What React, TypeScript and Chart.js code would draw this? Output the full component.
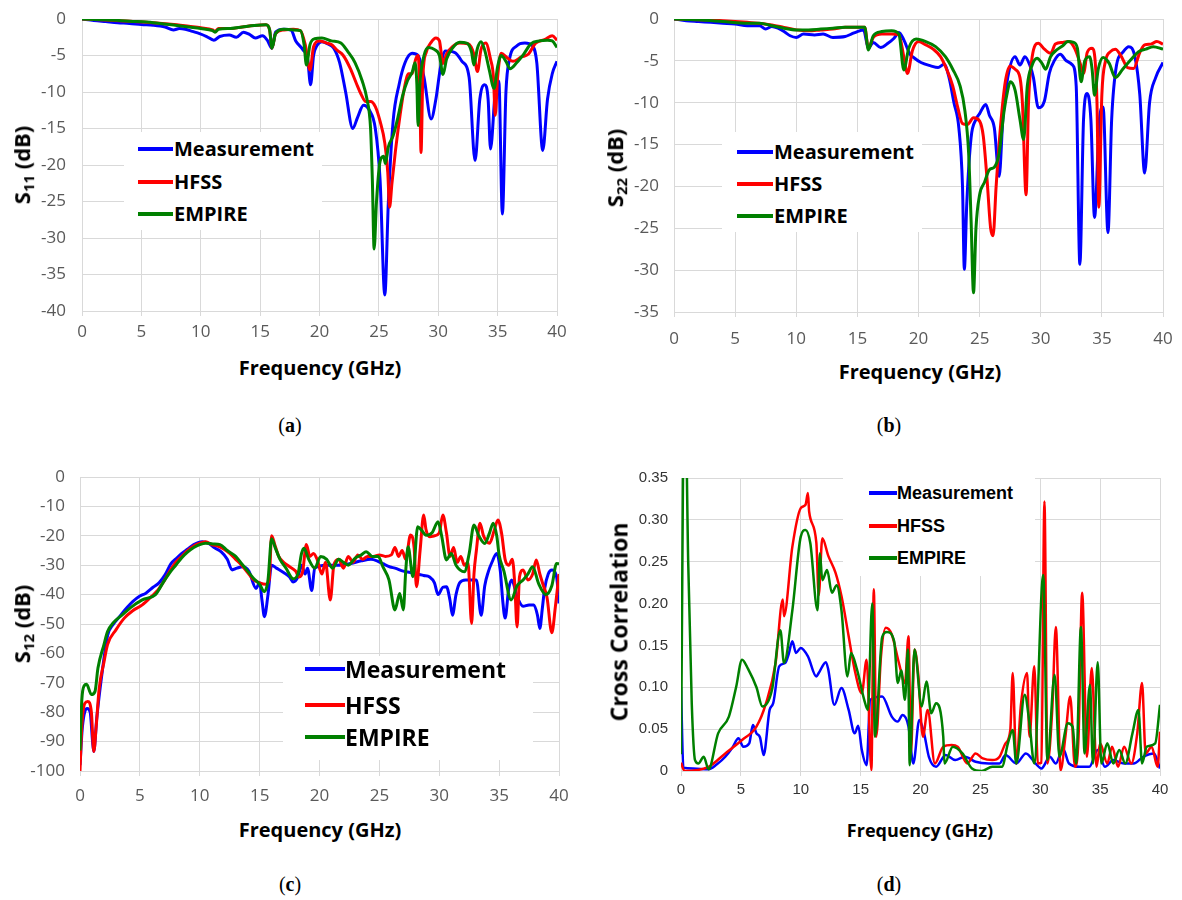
import React, { useEffect, useRef } from 'react';
import { Chart, registerables } from 'chart.js';

Chart.register(...registerables);

type Pt = [number, number];

// ---------- DATA (frequency GHz, value) ----------
const seriesNames = ['Measurement', 'HFSS', 'EMPIRE'];
const seriesColors = ['#0000ff', '#ff0000', '#008000'];

const s11Measurement: Pt[] = [
  [0, 0], [1, -0.2], [2, -0.35], [3, -0.5], [4, -0.6], [5, -0.75], [6, -0.85], [7, -1.1], [7.7, -1.5], [8.2, -1.3],
  [8.7, -1.4], [9.3, -1.7], [9.9, -2.0], [10.5, -2.4], [11.1, -2.9], [11.6, -2.4], [12.4, -2.2], [13, -2.5], [13.6, -1.8],
  [14.1, -2.1], [14.6, -2.6], [15.2, -2.3], [15.6, -2.9], [16, -4.0], [16.3, -1.8], [17, -1.4], [17.6, -1.5], [18, -3.0],
  [18.6, -4.2], [19, -5.5], [19.25, -9.0], [19.5, -5], [19.8, -3.6], [20.2, -3.1], [20.7, -3.4], [21.2, -4], [21.7, -6],
  [22.2, -10], [22.8, -15], [23.2, -13.5], [23.7, -11.8], [24.2, -12.5], [24.7, -15], [25.1, -22], [25.5, -37.8],
  [25.8, -25], [26.2, -14], [26.7, -9], [27.2, -6], [27.8, -4.7], [28.3, -5], [28.8, -8], [29.4, -13.7], [29.8, -11],
  [30.2, -6.5], [30.6, -4.4], [31.4, -4.6], [32, -5.8], [32.6, -8], [33.1, -19.4], [33.5, -11], [33.9, -9], [34.2, -11],
  [34.4, -17.8], [34.8, -10], [35.1, -8.5], [35.4, -26.7], [35.7, -10], [36, -5.5], [36.6, -3.7], [37.3, -3.3],
  [37.9, -3.6], [38.3, -6], [38.8, -18], [39.2, -11], [39.6, -7.5], [40, -5.8],
];
const s11Hfss: Pt[] = [
  [0, 0], [2, -0.15], [4, -0.3], [6, -0.5], [8, -0.8], [9, -1.0], [10, -1.2], [11, -1.5], [11.2, -1.7], [11.5, -1.3],
  [12.5, -1.3], [13.5, -1.1], [14.5, -0.9], [15.5, -0.8], [15.8, -1.5], [16, -4.0], [16.3, -2], [17, -1.5], [17.8, -1.4],
  [18.4, -1.6], [18.8, -3.5], [19.2, -7], [19.5, -3.8], [20, -3.0], [20.6, -3.3], [21, -3.5], [21.5, -4.3], [22, -5],
  [22.6, -6.8], [23.1, -8.8], [23.5, -10.3], [23.9, -11.3], [24.3, -11.3], [24.7, -12], [25.1, -14], [25.5, -17],
  [25.75, -21], [25.9, -25.8], [26.1, -22.5], [26.4, -18], [26.8, -13], [27.2, -9], [27.5, -7.5], [27.8, -7.5],
  [28.1, -5.5], [28.3, -5], [28.45, -10], [28.55, -18.3], [28.7, -8], [29, -4.5], [29.4, -3.2], [29.8, -2.6],
  [30.1, -3.0], [30.4, -6.1], [30.7, -4.8], [31.2, -3.8], [31.8, -3.3], [32.5, -3.4], [33, -4.8], [33.3, -7.2],
  [33.6, -4.2], [34, -3.3], [34.4, -5.5], [34.65, -8], [34.8, -13.2], [35, -8], [35.3, -4.7], [35.8, -5.3], [36.3, -5.8],
  [37, -5.2], [37.6, -4.8], [38.2, -3.3], [39, -2.8], [39.6, -2.3], [40, -2.9],
];
const s11Empire: Pt[] = [
  [0, 0], [2, -0.1], [4, -0.3], [6, -0.5], [8, -0.9], [9, -1.1], [10, -1.3], [11, -1.6], [11.2, -1.8], [11.5, -1.4],
  [12.5, -1.3], [13.5, -1.1], [14.5, -0.9], [15.5, -0.8], [15.8, -1.5], [16, -4.0], [16.3, -2], [17, -1.4], [17.8, -1.5],
  [18.4, -1.6], [18.7, -3.5], [18.9, -6.3], [19.2, -3.5], [19.6, -2.7], [20.2, -2.6], [21, -3.0], [21.8, -3.3],
  [22.4, -4.5], [23, -6], [23.6, -8.5], [24, -11], [24.3, -15], [24.45, -22], [24.6, -31.5], [24.8, -25], [25.1, -19.5],
  [25.4, -18.8], [25.55, -19.8], [25.8, -17.5], [26.2, -16], [26.6, -13.5], [27, -10.5], [27.4, -8.5], [27.8, -7.3],
  [28.05, -6], [28.2, -9], [28.3, -14.6], [28.45, -9], [28.8, -5], [29.2, -3.9], [29.7, -4.2], [30.1, -5], [30.4, -7.6],
  [30.7, -5.5], [31.2, -4], [31.8, -3.2], [32.4, -3.3], [32.8, -4.5], [33, -6.3], [33.3, -4], [33.6, -3.1], [33.9, -4.2],
  [34.3, -7], [34.7, -9.5], [35, -6.5], [35.3, -5], [35.7, -5.8], [36.05, -6.8], [36.6, -6], [37.2, -4.8], [37.8, -3.4],
  [38.5, -3.0], [39.2, -2.9], [39.6, -3.0], [40, -3.9],
];

const s22Measurement: Pt[] = [
  [0, 0], [1, -0.2], [2, -0.3], [3, -0.4], [4, -0.5], [5, -0.6], [6, -0.8], [7, -0.8], [7.5, -1.2], [8, -0.9], [8.5, -1.1],
  [9, -1.5], [9.5, -2.0], [10, -2.2], [10.6, -1.8], [11.5, -1.9], [12.2, -1.8], [13, -2.2], [14, -2.1], [14.5, -1.8],
  [15, -1.5], [15.5, -1.3], [15.9, -3.5], [16.3, -2.8], [16.9, -3.4], [17.5, -2.9], [18, -2.3], [18.4, -1.6], [18.8, -2.5],
  [19.3, -4.2], [19.6, -4.6], [20.2, -5.2], [21, -5.6], [21.6, -5.8], [22.1, -5.4], [22.5, -7], [22.9, -10], [23.3, -13],
  [23.6, -20], [23.75, -29.9], [23.95, -22], [24.3, -14.2], [24.7, -12], [25, -11.3], [25.5, -10.2], [25.8, -11.5],
  [26.2, -13], [26.6, -18.8], [26.9, -12], [27.3, -7], [27.9, -4.5], [28.3, -5.5], [28.7, -4.5], [29.1, -5.5], [29.4, -7],
  [29.8, -10.6], [30.3, -9.8], [30.7, -6.5], [31.1, -5], [31.6, -4.2], [32.1, -5], [32.6, -5.5], [32.9, -8], [33.2, -29.3],
  [33.5, -12], [33.8, -8.9], [34.1, -12], [34.4, -23.7], [34.8, -12], [35.1, -10.5], [35.5, -25.5], [35.8, -12],
  [36.2, -5.5], [36.7, -4], [37.2, -3.3], [37.7, -4.5], [38.1, -9], [38.5, -18.4], [38.9, -10], [39.4, -7], [40, -5.2],
];
const s22Hfss: Pt[] = [
  [0, 0], [2, -0.1], [4, -0.2], [6, -0.4], [8, -0.7], [9, -1.0], [10, -1.3], [11, -1.4], [12, -1.3], [13, -1.2], [14, -1.0],
  [15, -1.0], [15.6, -1.0], [15.9, -3.5], [16.3, -2.2], [17, -1.8], [17.8, -1.8], [18.4, -1.9], [18.8, -4.5], [19.1, -6.5],
  [19.5, -3.8], [20, -2.7], [20.6, -3.1], [21.2, -3.6], [21.8, -4.5], [22.3, -6], [22.8, -8], [23.2, -10.5], [23.6, -12.5],
  [24, -12.6], [24.5, -11.8], [25, -12.2], [25.3, -14], [25.6, -19], [25.9, -25], [26.1, -25.9], [26.35, -20],
  [26.7, -13], [27.1, -7.5], [27.5, -5.6], [27.9, -6], [28.3, -7], [28.5, -10], [28.8, -21], [29, -10], [29.3, -4.5],
  [29.8, -2.9], [30.3, -3.6], [30.8, -4.1], [31.2, -3.0], [31.8, -2.8], [32.3, -2.7], [32.8, -3.6], [33.2, -5.2],
  [33.5, -6.5], [33.8, -4], [34.2, -3.5], [34.45, -5], [34.6, -10], [34.75, -22.5], [35, -9], [35.3, -5], [35.7, -3.9],
  [36.1, -3.6], [36.6, -4.5], [37.1, -5.8], [37.6, -5.9], [38.1, -4], [38.5, -3.1], [39, -3.0], [39.5, -2.7], [40, -3.0],
];
const s22Empire: Pt[] = [
  [0, 0], [2, -0.1], [4, -0.3], [6, -0.5], [7, -0.5], [8, -0.8], [9, -1.1], [10, -1.3], [11, -1.3], [12, -1.2], [13, -1.1],
  [14, -1.0], [15, -1.0], [15.6, -1.0], [15.9, -3.7], [16.3, -2], [17, -1.5], [17.8, -1.4], [18.4, -1.8], [18.8, -6.1],
  [19.2, -3.5], [19.8, -2.4], [20.6, -2.7], [21.4, -3.3], [22.2, -4.5], [22.8, -6], [23.4, -8], [23.8, -11], [24.1, -16],
  [24.3, -24], [24.5, -32.7], [24.7, -25], [25, -21], [25.4, -19.5], [25.8, -18], [26.2, -17.7], [26.6, -16], [27, -11],
  [27.3, -8.5], [27.5, -7.5], [27.9, -8.5], [28.3, -12], [28.6, -14.4], [28.9, -8], [29.3, -5.5], [29.7, -4.7],
  [30.1, -5.3], [30.4, -6], [30.8, -4.5], [31.3, -3.7], [31.8, -3.2], [32.2, -2.7], [32.7, -2.8], [33, -3.5], [33.3, -7.5],
  [33.6, -5], [34, -4.5], [34.2, -6], [34.4, -9.1], [34.7, -6], [35.1, -4.6], [35.6, -5.3], [36.1, -7], [36.7, -6],
  [37.4, -4.8], [38, -3.9], [38.6, -3.6], [39.2, -3.3], [40, -3.6],
];

const s12Measurement: Pt[] = [
  [0, -98], [0.2, -85], [0.6, -78.7], [0.85, -80], [1.05, -90], [1.15, -93.4], [1.4, -82], [1.8, -68], [2.3, -54],
  [2.8, -50], [3.3, -47.5], [3.8, -45], [4.4, -42.4], [5, -40.5], [5.5, -39.5], [6.1, -37.5], [6.6, -36], [7.1, -33.3],
  [7.6, -29.5], [8.1, -27.5], [8.5, -26], [9, -24.5], [9.5, -23], [10.2, -22], [10.7, -22.5], [11.2, -24], [11.8, -25.5],
  [12.3, -28], [12.7, -31.6], [13.1, -31], [13.6, -30.5], [14.1, -32], [14.7, -37.9], [15.0, -36], [15.2, -42],
  [15.4, -47.5], [15.7, -40], [16.0, -30], [16.4, -31], [17, -32.5], [17.5, -34], [17.8, -35.7], [18.2, -34], [18.5, -30],
  [18.8, -33], [19.0, -31], [19.35, -38.6], [19.6, -31], [20.6, -30], [21.5, -30], [22.5, -29.5], [23.5, -28.5],
  [24.3, -28], [24.8, -28.5], [25.3, -29.5], [25.9, -30.6], [26.3, -31], [27, -32], [27.6, -32.5], [28.1, -33],
  [28.7, -33.5], [29.2, -34], [29.6, -36], [29.9, -40], [30.3, -37.5], [30.6, -37.3], [30.9, -42], [31.1, -47],
  [31.4, -40], [31.7, -36], [32.2, -35], [32.6, -35], [33.1, -35], [33.5, -47], [33.8, -37], [34.1, -32.2], [34.4, -29],
  [34.8, -26], [35.1, -32], [35.3, -42], [35.5, -48], [35.8, -38], [36.05, -35], [36.5, -40.7], [37, -44], [37.5, -43.5],
  [37.9, -43.5], [38.2, -47], [38.4, -51.5], [38.6, -45], [38.8, -38], [39.1, -33], [39.4, -31.6], [39.8, -34], [40, -43],
];
const s12Hfss: Pt[] = [
  [0, -100], [0.15, -85], [0.4, -77], [0.65, -76.4], [0.95, -80], [1.15, -93.4], [1.35, -85], [1.6, -72], [2, -63],
  [2.3, -57], [3, -52], [3.7, -48], [4.4, -45.5], [5.2, -43.5], [6, -40.5], [6.5, -38.5], [7, -35.5], [7.5, -32],
  [8, -29], [8.5, -27], [9, -25], [9.5, -23.5], [10, -22.5], [10.5, -22], [11, -23], [11.5, -23.5], [12, -24.5],
  [12.5, -26], [13, -28], [13.5, -30], [14, -32.5], [14.5, -35], [15, -36], [15.5, -36.5], [15.8, -35], [16, -20],
  [16.3, -23.5], [16.6, -27], [17, -29], [17.5, -30.5], [18, -32], [18.3, -34], [18.6, -32], [18.9, -23], [19.2, -27],
  [19.5, -26], [19.8, -28], [20.2, -33], [20.5, -29], [20.9, -41.8], [21.2, -30], [21.6, -28], [22, -31], [22.4, -27],
  [22.8, -29], [23.2, -26.5], [23.6, -28], [24, -27], [24.5, -27], [25, -26.5], [25.5, -27], [26, -26.5], [26.3, -24],
  [26.6, -27], [26.9, -25], [27.2, -28], [27.6, -19.7], [27.9, -24], [28.1, -37.3], [28.4, -25], [28.7, -12.9],
  [28.9, -18], [29.2, -20.3], [29.6, -20], [30, -19], [30.3, -12.9], [30.6, -19], [30.9, -27], [31.2, -24], [31.5, -29],
  [31.8, -27], [32.1, -30], [32.4, -29], [32.7, -49.8], [32.9, -33], [33.1, -25], [33.4, -15.7], [33.7, -20],
  [34.2, -22.5], [34.6, -18], [34.9, -14.6], [35.2, -19], [35.5, -28], [35.8, -30], [36.1, -28], [36.3, -36],
  [36.5, -51], [36.7, -34], [37, -31.6], [37.4, -35], [37.8, -33], [38.1, -28.2], [38.4, -33], [38.7, -37], [39, -41],
  [39.4, -53], [39.7, -44], [40, -33],
];
const s12Empire: Pt[] = [
  [0, -93], [0.15, -76], [0.35, -71], [0.55, -70.5], [0.95, -74], [1.25, -73], [1.5, -65], [2, -57], [2.3, -52.6],
  [2.8, -49.5], [3.5, -47], [4.2, -44.5], [5.2, -41.8], [6.3, -40], [7, -35.5], [7.5, -32.5], [8, -30], [8.5, -27.5],
  [9, -25.5], [9.5, -24], [10, -23], [10.5, -22.5], [11.1, -22.8], [11.7, -23], [12.3, -25], [13, -27], [13.5, -29.5],
  [14, -32], [14.5, -34.5], [15, -36.5], [15.4, -39], [15.7, -35], [16, -21], [16.3, -24], [16.7, -28], [17.2, -31],
  [17.8, -34.6], [18.2, -33], [18.5, -26], [18.7, -24.2], [19.1, -28], [19.6, -31], [20.1, -27], [20.6, -28],
  [21.1, -31], [21.6, -28], [22, -29], [22.4, -30], [23, -27.5], [23.5, -26.5], [23.9, -25.4], [24.4, -27], [24.9, -27],
  [25.3, -30.6], [25.8, -35], [26.3, -45.2], [26.7, -39.6], [27, -45.2], [27.2, -32], [27.4, -23.7], [27.8, -33.9],
  [28.2, -16.9], [28.5, -18], [28.9, -19.8], [29.4, -19], [29.9, -15.2], [30.2, -20], [30.6, -28.2], [31, -26],
  [31.4, -30], [32.1, -32.2], [32.5, -26], [32.9, -16.3], [33.3, -20], [33.8, -22.6], [34.2, -19], [34.5, -15.7],
  [34.8, -20], [35, -26.5], [35.4, -32], [36, -41.8], [36.5, -37], [37, -35], [37.4, -33], [37.8, -30.5], [38.3, -36.3],
  [38.9, -40], [39.4, -37], [39.8, -29.4], [40, -29.5],
];

const ccMeasurement: Pt[] = [
  [0, 0.1], [0.2, 0.004], [1, 0.003], [2.3, 0.002], [3, 0.008], [3.7, 0.017], [4.3, 0.028], [4.8, 0.039], [5.2, 0.029],
  [5.7, 0.033], [6.0, 0.055], [6.3, 0.045], [6.6, 0.04], [6.9, 0.019], [7.4, 0.073], [7.7, 0.081], [8.2, 0.125],
  [8.7, 0.129], [9.0, 0.14], [9.3, 0.155], [9.6, 0.141], [10.0, 0.147], [10.6, 0.137], [11.3, 0.113], [11.5, 0.117],
  [12.1, 0.13], [12.3, 0.121], [12.8, 0.079], [13.4, 0.099], [14.0, 0.073], [14.5, 0.045], [14.8, 0.054], [15.1, 0.025],
  [15.5, 0.007], [15.8, 0.085], [16.8, 0.089], [17.6, 0.065], [18.1, 0.059], [18.5, 0.067], [19.0, 0.053], [19.4, 0.009],
  [19.9, 0.061], [20.3, 0.045], [20.7, 0.017], [21.3, 0.005], [22.1, 0.019], [22.9, 0.013], [23.7, 0.017], [24.6, 0.011],
  [25.7, 0.009], [26.6, 0.009], [27.1, 0.019], [28.0, 0.009], [28.8, 0.021], [29.6, 0.009], [30.1, 0.003], [30.8, 0.017],
  [31.3, 0.009], [31.9, 0.027], [32.4, 0.009], [33.3, 0.005], [34.1, 0.005], [34.8, 0.025], [35.4, 0.005], [36.1, 0.013],
  [37.0, 0.009], [37.8, 0.009], [38.6, 0.017], [39.5, 0.021], [40, 0.003],
];
const ccHfss: Pt[] = [
  [0, 0.01], [0.3, 0.0], [2.3, 0.005], [3.7, 0.021], [5.1, 0.037], [6.3, 0.053], [7.1, 0.081], [7.9, 0.129], [8.5, 0.205],
  [8.6, 0.185], [9.3, 0.268], [10.0, 0.314], [10.4, 0.318], [10.6, 0.332], [10.7, 0.31], [11.3, 0.273], [11.5, 0.21],
  [11.8, 0.278], [12.3, 0.257], [12.9, 0.237], [13.4, 0.209], [14.0, 0.161], [14.5, 0.121], [15.1, 0.093], [15.5, 0.133],
  [15.9, 0.001], [16.1, 0.217], [16.3, 0.041], [16.7, 0.137], [17.1, 0.171], [17.6, 0.163], [18.2, 0.129], [18.7, 0.105],
  [19.0, 0.161], [19.2, 0.021], [19.5, 0.145], [19.8, 0.117], [20.2, 0.041], [20.6, 0.073], [21.2, 0.009], [21.9, 0.029],
  [22.6, 0.031], [23.1, 0.029], [23.9, 0.009], [24.6, 0.021], [25.2, 0.015], [26.0, 0.013], [26.6, 0.017], [27.1, 0.033],
  [27.5, 0.049], [27.7, 0.117], [28.0, 0.009], [28.4, 0.081], [28.9, 0.117], [29.1, 0.041], [29.5, 0.125], [29.8, 0.009],
  [30.1, 0.01], [30.35, 0.322], [30.6, 0.009], [31.0, 0.073], [31.3, 0.172], [31.7, 0.001], [32.1, 0.041], [32.5, 0.089],
  [32.9, 0.005], [33.2, 0.041], [33.5, 0.213], [33.9, 0.017], [34.3, 0.123], [34.7, 0.005], [35.0, 0.033], [35.6, 0.009],
  [36.0, 0.029], [36.5, 0.005], [37.0, 0.029], [37.6, 0.009], [38.1, 0.045], [38.5, 0.105], [38.8, 0.021], [39.3, 0.029],
  [39.8, 0.005], [40, 0.047],
];
const ccEmpire: Pt[] = [
  [0, 0.02], [0.3, 0.5], [0.6, 0.25], [0.9, 0.08], [1.17, 0.013], [1.45, 0.009], [1.9, 0.017], [2.3, 0.002], [3.1, 0.045],
  [4.0, 0.065], [4.6, 0.1], [5.1, 0.133], [5.6, 0.122], [6.3, 0.1], [6.8, 0.077], [7.6, 0.097], [8.3, 0.168], [8.6, 0.129],
  [9.3, 0.192], [10.0, 0.28], [10.4, 0.288], [10.8, 0.272], [11.4, 0.192], [11.6, 0.26], [11.8, 0.228], [12.2, 0.24],
  [12.6, 0.213], [13.0, 0.222], [13.4, 0.192], [13.9, 0.113], [14.2, 0.141], [14.7, 0.121], [15.3, 0.085], [15.6, 0.073],
  [15.97, 0.2], [16.2, 0.041], [16.8, 0.16], [17.2, 0.166], [17.8, 0.155], [18.1, 0.105], [18.4, 0.12], [18.7, 0.085],
  [18.95, 0.145], [19.1, 0.007], [19.5, 0.145], [20.1, 0.077], [20.5, 0.107], [20.9, 0.069], [21.3, 0.081], [21.9, 0.041],
  [22.0, 0.009], [22.7, 0.029], [23.5, 0.021], [24.3, 0.003], [25.1, 0.0], [26.0, 0.005], [26.8, 0.005], [27.3, 0.033],
  [27.7, 0.049], [28.0, 0.009], [28.7, 0.091], [29.1, 0.057], [29.5, 0.009], [30.25, 0.234], [30.6, 0.013], [31.2, 0.115],
  [31.6, 0.017], [32.3, 0.057], [32.7, 0.053], [33.0, 0.009], [33.4, 0.172], [33.7, 0.021], [34.15, 0.103], [34.4, 0.009],
  [34.8, 0.13], [35.1, 0.009], [35.6, 0.033], [36.1, 0.009], [36.6, 0.025], [37.1, 0.009], [37.7, 0.045], [38.2, 0.073],
  [38.5, 0.009], [38.9, 0.029], [39.6, 0.033], [40, 0.079],
];

// ---------- LAYOUT ----------
type PanelCfg = {
  series: Pt[][];
  left: number; top: number; w: number; h: number;
  padTop: number; padRight: number; yWidth: number; xHeight: number;
  yMin: number; yMax: number; yStep: number;
  tickFont: { family: string; size: number }; tickColor: string;
  xTickPad: number; yTickPad: number; lineWidth: number;
};

const tickFontMain = { family: '"Open Sans", sans-serif', size: 17 };
const tickFontSmall = { family: '"Liberation Sans", sans-serif', size: 15 };

const panels: PanelCfg[] = [
  { series: [s11Measurement, s11Hfss, s11Empire], left: 0, top: 0, w: 580, h: 351, padTop: 19, padRight: 23, yWidth: 82, xHeight: 40,
    yMin: -40, yMax: 0, yStep: 5, tickFont: tickFontMain, tickColor: '#595959', xTickPad: 6, yTickPad: 16, lineWidth: 3 },
  { series: [s22Measurement, s22Hfss, s22Empire], left: 590, top: 0, w: 592, h: 352, padTop: 19, padRight: 19, yWidth: 84, xHeight: 40,
    yMin: -35, yMax: 0, yStep: 5, tickFont: tickFontMain, tickColor: '#595959', xTickPad: 12, yTickPad: 15, lineWidth: 3 },
  { series: [s12Measurement, s12Hfss, s12Empire], left: 0, top: 460, w: 580, h: 351, padTop: 17, padRight: 21, yWidth: 80, xHeight: 40,
    yMin: -100, yMax: 0, yStep: 10, tickFont: tickFontMain, tickColor: '#595959', xTickPad: 10, yTickPad: 15, lineWidth: 3 },
  { series: [ccMeasurement, ccHfss, ccEmpire], left: 590, top: 460, w: 592, h: 351, padTop: 18, padRight: 22, yWidth: 91, xHeight: 40,
    yMin: 0, yMax: 0.35, yStep: 0.05, tickFont: tickFontSmall, tickColor: '#333333', xTickPad: 5, yTickPad: 13, lineWidth: 2.5 },
];

function ChartPanel({ cfg }: { cfg: PanelCfg }) {
  const ref = useRef<HTMLCanvasElement | null>(null);
  useEffect(() => {
    if (!ref.current) return;
    const grid = '#d9d9d9';
    const chart = new Chart(ref.current, {
      type: 'line',
      data: {
        datasets: cfg.series.map((s, i) => ({
          label: seriesNames[i],
          data: s.map(([x, y]) => ({ x, y })),
          borderColor: seriesColors[i],
          backgroundColor: seriesColors[i],
          borderWidth: cfg.lineWidth,
          pointRadius: 0,
          cubicInterpolationMode: 'monotone' as const,
          order: 3 - i,
        })),
      },
      options: {
        animation: false,
        responsive: false,
        maintainAspectRatio: false,
        layout: { padding: { left: 0, top: cfg.padTop, right: cfg.padRight, bottom: 0 } },
        plugins: { legend: { display: false }, tooltip: { enabled: false } },
        scales: {
          x: {
            type: 'linear', min: 0, max: 40,
            ticks: { stepSize: 5, font: cfg.tickFont, color: cfg.tickColor, padding: cfg.xTickPad, maxRotation: 0 },
            grid: { color: grid, lineWidth: 1, drawTicks: true, tickLength: 5 },
            border: { color: grid },
            afterFit: (s: any) => { s.height = cfg.xHeight; s.paddingLeft = 0; s.paddingRight = 0; },
          },
          y: {
            type: 'linear', min: cfg.yMin, max: cfg.yMax,
            ticks: { stepSize: cfg.yStep, font: cfg.tickFont, color: cfg.tickColor, padding: cfg.yTickPad },
            grid: { color: grid, lineWidth: 1, drawTicks: false },
            border: { color: grid },
            afterFit: (s: any) => { s.width = cfg.yWidth; s.paddingTop = 0; s.paddingBottom = 0; },
          },
        },
      },
    } as any);
    return () => chart.destroy();
  }, [cfg]);
  return (
    <canvas
      ref={ref}
      width={cfg.w}
      height={cfg.h}
      style={{ position: 'absolute', left: cfg.left, top: cfg.top, width: cfg.w, height: cfg.h }}
    />
  );
}

type LegendCfg = {
  box: [number, number, number, number];
  rows: number[]; sx1: number; sx2: number; tx: number; font: string; size: number;
};

const legends: LegendCfg[] = [
  { box: [124, 132, 198, 98], rows: [149, 182, 214], sx1: 138, sx2: 173, tx: 174, font: '"Open Sans", sans-serif', size: 20 },
  { box: [722, 132, 200, 100], rows: [152, 184, 216], sx1: 737, sx2: 773, tx: 774, font: '"Open Sans", sans-serif', size: 20 },
  { box: [283, 656, 250, 104], rows: [669, 705, 737], sx1: 305, sx2: 345, tx: 345, font: '"Open Sans", sans-serif', size: 23 },
  { box: [843, 476, 192, 100], rows: [493, 526, 558], sx1: 869, sx2: 897, tx: 897, font: '"Liberation Sans", sans-serif', size: 18 },
];

function Legend({ cfg }: { cfg: LegendCfg }) {
  const [bx, by, bw, bh] = cfg.box;
  return (
    <>
      <div style={{ position: 'absolute', left: bx, top: by, width: bw, height: bh, background: '#fff' }} />
      {seriesNames.map((name, i) => (
        <React.Fragment key={name}>
          <div style={{ position: 'absolute', left: cfg.sx1, top: cfg.rows[i] - 2, width: cfg.sx2 - cfg.sx1, height: 4, background: seriesColors[i] }} />
          <div style={{ position: 'absolute', left: cfg.tx, top: cfg.rows[i], transform: 'translateY(-50%)', fontFamily: cfg.font, fontWeight: 700, fontSize: cfg.size, color: '#000', whiteSpace: 'nowrap', lineHeight: 1 }}>
            {name}
          </div>
        </React.Fragment>
      ))}
    </>
  );
}

const titleFont = '"Open Sans", sans-serif';

function Rot({ x, y, size, children }: { x: number; y: number; size: number; children: React.ReactNode }) {
  return (
    <div style={{ position: 'absolute', left: x, top: y, transform: 'translate(-50%,-50%) rotate(-90deg)', fontFamily: titleFont, fontWeight: 700, fontSize: size, color: '#000', whiteSpace: 'nowrap', lineHeight: 1 }}>
      {children}
    </div>
  );
}

function Txt({ x, y, size, children, font = titleFont, weight = 700 }: { x: number; y: number; size: number; children: React.ReactNode; font?: string; weight?: number }) {
  return (
    <div style={{ position: 'absolute', left: x, top: y, transform: 'translate(-50%,-50%)', fontFamily: font, fontWeight: weight, fontSize: size, color: '#000', whiteSpace: 'nowrap', lineHeight: 1 }}>
      {children}
    </div>
  );
}

const subStyle: React.CSSProperties = { fontSize: '0.68em', verticalAlign: '-0.25em' };
const capFont = '"Liberation Serif", "DejaVu Serif", serif';

export default function App() {
  return (
    <div style={{ position: 'absolute', left: 0, top: 0, width: 1182, height: 900, background: '#fff', overflow: 'hidden' }}>
      {panels.map((p, i) => <ChartPanel key={i} cfg={p} />)}
      {legends.map((l, i) => <Legend key={i} cfg={l} />)}

      <Rot x={23} y={165} size={22}>S<span style={subStyle}>11</span> (dB)</Rot>
      <Rot x={616} y={168} size={22}>S<span style={subStyle}>22</span> (dB)</Rot>
      <Rot x={23} y={624} size={22}>S<span style={subStyle}>12</span> (dB)</Rot>
      <Rot x={619} y={622} size={23}>Cross Correlation</Rot>

      <Txt x={320} y={368} size={20}>Frequency (GHz)</Txt>
      <Txt x={920} y={372} size={20}>Frequency (GHz)</Txt>
      <Txt x={320} y={830} size={20}>Frequency (GHz)</Txt>
      <Txt x={920} y={830} size={18}>Frequency (GHz)</Txt>

      <Txt x={290} y={425} size={20} font={capFont} weight={400}>(<b>a</b>)</Txt>
      <Txt x={889} y={425} size={20} font={capFont} weight={400}>(<b>b</b>)</Txt>
      <Txt x={290} y={884} size={20} font={capFont} weight={400}>(<b>c</b>)</Txt>
      <Txt x={889} y={884} size={20} font={capFont} weight={400}>(<b>d</b>)</Txt>
    </div>
  );
}
